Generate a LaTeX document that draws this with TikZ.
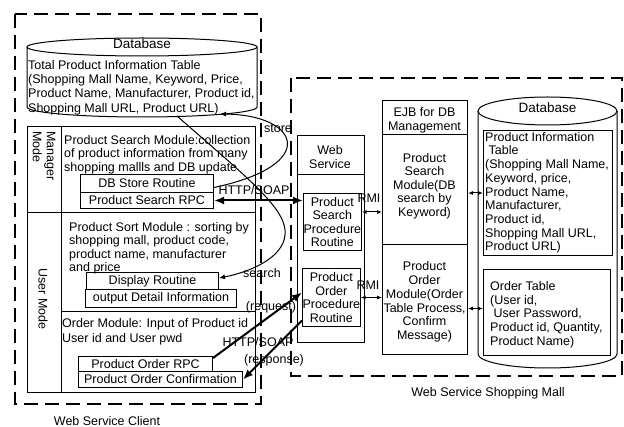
\documentclass[tikz,border=0pt]{standalone}
\usepackage{fontspec}
\setmainfont{Liberation Sans}
\usetikzlibrary{arrows.meta}
\begin{document}
\begin{tikzpicture}[x=1pt,y=-1pt,
  every node/.style={font=\fontsize{12.5}{14}\selectfont, inner sep=0pt},
  box/.style={draw, line width=1pt, anchor=north west, align=center},
  frame/.style={line width=1pt},
  outer/.style={line width=2.2pt, dash pattern=on 14pt off 7pt},
  txt/.style={anchor=north west, align=left},
  thickarr/.style={line width=2pt, -{Latex[length=10pt,width=8pt]}},
  thickdbl/.style={line width=2pt, {Latex[length=10pt,width=8pt]}-{Latex[length=10pt,width=8pt]}},
  rmiarr/.style={line width=1pt, {Latex[length=5pt,width=4pt]}-{Latex[length=5pt,width=4pt]}},
  thinarr/.style={line width=1pt, -{Latex[length=6pt,width=5pt]}}
]
\useasboundingbox (0,0) rectangle (624,427);

% outer dashed frames
\draw[outer] (15,14) rectangle (261,404);
\draw[outer] (291,78) rectangle (622,376);
\node (clientlbl) at (107,421) {Web Service Client};
\node (malllbl) at (488,393) {Web Service Shopping Mall};

% left database
\draw[frame] (27,47) -- (27,107) arc[start angle=180,end angle=360,x radius=115pt,y radius=10pt] -- (257,47);
\draw[frame, fill=white] (142,47) ellipse[x radius=115pt, y radius=9pt];
\node[font=\fontsize{13.5}{14}\selectfont] (ldbtitle) at (142,44) {Database};
\node[txt, font=\fontsize{12.5}{14.3}\selectfont] (ldbtext) at (28,60) {Total Product Information Table\\(Shopping Mall Name, Keyword, Price,\\Product Name, Manufacturer, Product id,\\Shopping Mall URL, Product URL)};
\coordinate (ldbstore) at (220,114);
\coordinate (ldbsearch) at (177,116);

% client module box
\draw[frame] (27,127) rectangle (255,393);
\draw[frame] (61,127) -- (61,393);
\draw[frame] (27,213) -- (255,213);
\draw[frame] (61,312) -- (255,312);
\node[rotate=-90, align=left] (mgrlbl) at (44,156) {Manager\\Mode};
\node[rotate=-90] (usrlbl) at (43,299) {User Mode};

\node[txt, font=\fontsize{12.5}{13.7}\selectfont] (searchmod) at (64,135) {Product Search Module:collection\\of product information from many\\shopping mallls and DB update};
\node[box, minimum width=133pt, minimum height=18pt] (dbstore) at (80,174) {DB Store Routine};
\node[box, minimum width=133pt, minimum height=16pt] (psrpc) at (80,192) {Product Search RPC};

\node[txt, font=\fontsize{12.5}{13.4}\selectfont] (sortmod) at (69,222) {Product Sort Module : sorting by\\shopping mall, product code,\\product name, manufacturer\\and price};
\node[box, minimum width=132pt, minimum height=17pt] (display) at (86,272) {Display Routine};
\node[box, minimum width=151pt, minimum height=18pt] (output) at (85,289) {output Detail Information};

\node[txt, font=\fontsize{12.5}{15}\selectfont] (ordermod) at (62,318) {Order Module: Input of Product id\\User id and User pwd};
\node[box, minimum width=134pt, minimum height=15pt] (porpc) at (78,356) {Product Order RPC};
\node[box, minimum width=164pt, minimum height=16pt] (pocf) at (78,371) {Product Order Confirmation};

% web service
\node[box, minimum width=67pt, minimum height=207pt] (ws) at (297,135) {};
\draw[frame] (297,175) -- (364,175);
\node[align=center] (wstitle) at (330,157) {Web\\Service};
\node[box, minimum width=55pt, minimum height=57pt, font=\fontsize{12.5}{13.5}\selectfont] (psproc) at (303,193) {Product\\Search\\Procedure\\Routine};
\node[box, minimum width=55pt, minimum height=58pt, font=\fontsize{12.5}{13.5}\selectfont] (poproc) at (302,268) {Product\\Order\\Procedure\\Routine};

% EJB
\node[box, minimum width=85pt, minimum height=254pt] (ejb) at (382,100) {};
\draw[frame] (382,135) -- (467,135);
\draw[frame] (382,245) -- (467,245);
\node[align=center] (ejbtitle) at (424.5,120) {EJB for DB\\Management};
\node[align=center, font=\fontsize{12.5}{13.5}\selectfont] (ejbsearch) at (424.5,186) {Product\\Search\\Module(DB\\search by\\Keyword)};
\node[align=center, font=\fontsize{12.5}{13.8}\selectfont] (ejborder) at (424.5,302) {Product\\Order\\Module(Order\\Table Process,\\Confirm\\Message)};

% right database
\draw[frame] (478,111) -- (478,354) arc[start angle=180,end angle=360,x radius=69.5pt,y radius=14pt] -- (617,111);
\draw[frame, fill=white] (547.5,111) ellipse[x radius=69.5pt, y radius=14pt];
\node[font=\fontsize{13.5}{14}\selectfont] (rdbtitle) at (547.5,108) {Database};
\node[box, minimum width=129pt, minimum height=125pt] (pit) at (483,130) {};
\node[txt, font=\fontsize{12.5}{13.7}\selectfont] (pittext) at (485,132) {Product Information\\\ Table\\(Shopping Mall Name,\\Keyword, price,\\Product Name,\\Manufacturer,\\Product id,\\Shopping Mall URL,\\Product URL)};
\node[box, minimum width=127pt, minimum height=86pt] (ot) at (483,269) {};
\node[txt, font=\fontsize{12.5}{13.8}\selectfont] (ottext) at (490,281) {Order Table\\(User id,\\\ User Password,\\Product id, Quantity,\\Product Name)};

% connectors
\draw[thinarr] ([yshift=-4pt]dbstore.east) .. controls (320,165) and (300,115) .. (ldbstore);
\node (storelbl) at (278,129) {store};
\draw[thinarr] (ldbsearch) .. controls (250,180) and (288,210) .. (285,235) .. controls (283,258) and (250,272) .. ([yshift=3pt]display.east);
\node (searchlbl) at (262,273) {search};

\draw[thickdbl] (psrpc.east) -- (psrpc.east -| psproc.west);
\node (soap1) at (254,190) {HTTP/SOAP};

\draw[rmiarr] ([yshift=10pt]psproc.east) -- ([yshift=10pt]psproc.east -| ejb.west);
\node (rmi1) at (369,198) {RMI};
\draw[rmiarr] (poproc.east) -- (poproc.east -| ejb.west);
\node (rmi2) at (368,285) {RMI};

\draw[rmiarr] (ejb.east |- pit.west) -- (pit.west);
\draw[rmiarr] ([yshift=4pt]ot.west -| ejb.east) -- ([yshift=4pt]ot.west);

\draw[thickarr] ([yshift=6pt]porpc.east) -- ([yshift=5pt]poproc.west);
\node (reqlbl) at (271,307) {(request)};
\draw[thickarr] ([yshift=-23pt]poproc.west) -- (pocf.east);
\node (soap2) at (258,342) {HTTP/SOAP};
\node (resplbl) at (274,360) {(response)};
\end{tikzpicture}
\end{document}
